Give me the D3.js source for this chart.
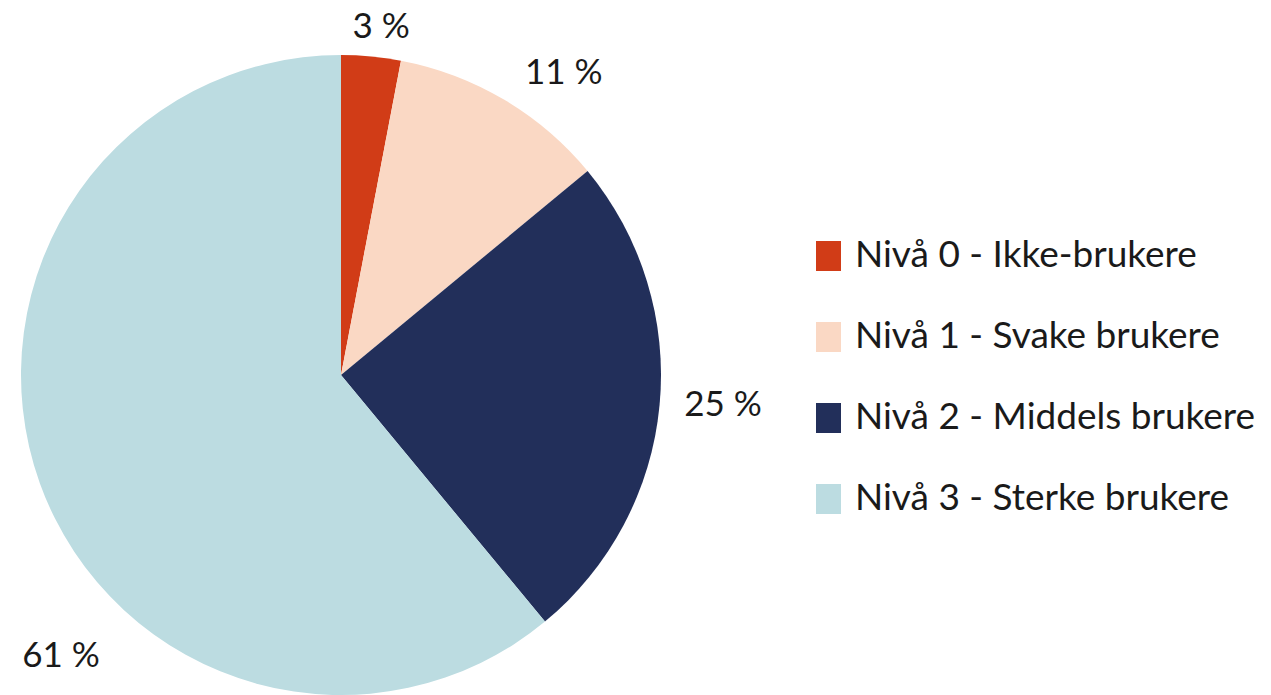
<!DOCTYPE html>
<html>
<head>
<meta charset="utf-8">
<script src="https://cdn.jsdelivr.net/npm/d3@7"></script>
<style>
  html, body { margin: 0; padding: 0; background: #fff; }
  text { font-family: Lato, "Open Sans", sans-serif; fill: #1a1a1a; }
</style>
</head>
<body>
<svg width="1271" height="695"></svg>
<script>
var levels = ['Nivå 0 - Ikke-brukere', 'Nivå 1 - Svake brukere', 'Nivå 2 - Middels brukere', 'Nivå 3 - Sterke brukere'];
var shares = [3, 11, 25, 61];
var colors = ['#d13c17', '#fad8c4', '#222f5a', '#bcdce1'];

var svg = d3.select('svg');
var cx = 341, cy = 375, radius = 320;

var data = levels.map(function(d, i) {
  return {level: d, value: shares[i], color: colors[i]};
});

var pie = d3.pie().sort(null).value(function(d) { return d.value; });
var arc = d3.arc().innerRadius(0).outerRadius(radius);
var arcs = pie(data);

var chartG = svg.append('g')
    .attr('transform', 'translate(' + [cx, cy] + ')');

chartG.selectAll('path')
  .data(arcs)
  .enter()
  .append('path')
    .attr('d', arc)
    .attr('fill', function(d) { return d.data.color; });

// label placement: angle nudge (rad) and distance from centre, per slice
var labelNudge = [0.02, 0.1, -0.02, -0.44];
var labelDist = [352, 376, 383, 396];

chartG.selectAll('text.pct')
  .data(arcs)
  .enter()
  .append('text')
    .attr('class', 'pct')
    .attr('text-anchor', 'middle')
    .attr('dy', '0.35em')
    .style('font-size', '35px')
    .attr('x', function(d, i) {
      var a = (d.startAngle + d.endAngle) / 2 + labelNudge[i];
      return Math.sin(a) * labelDist[i];
    })
    .attr('y', function(d, i) {
      var a = (d.startAngle + d.endAngle) / 2 + labelNudge[i];
      return -Math.cos(a) * labelDist[i];
    })
    .text(function(d) { return d.data.value + ' %'; });

var legendY = d3.scalePoint()
    .domain(levels)
    .range([256, 499]);

var legend = svg.append('g')
    .attr('class', 'legend')
    .attr('transform', 'translate(816,0)');

var item = legend.selectAll('g')
  .data(data)
  .enter()
  .append('g')
    .attr('transform', function(d) { return 'translate(0,' + legendY(d.level) + ')'; });

item.append('rect')
    .attr('x', 0)
    .attr('y', -15)
    .attr('width', 25)
    .attr('height', 30)
    .attr('fill', function(d) { return d.color; });

item.append('text')
    .attr('x', 39)
    .attr('y', 11)
    .style('font-size', '37px')
    .text(function(d) { return d.level; });
</script>
</body>
</html>
